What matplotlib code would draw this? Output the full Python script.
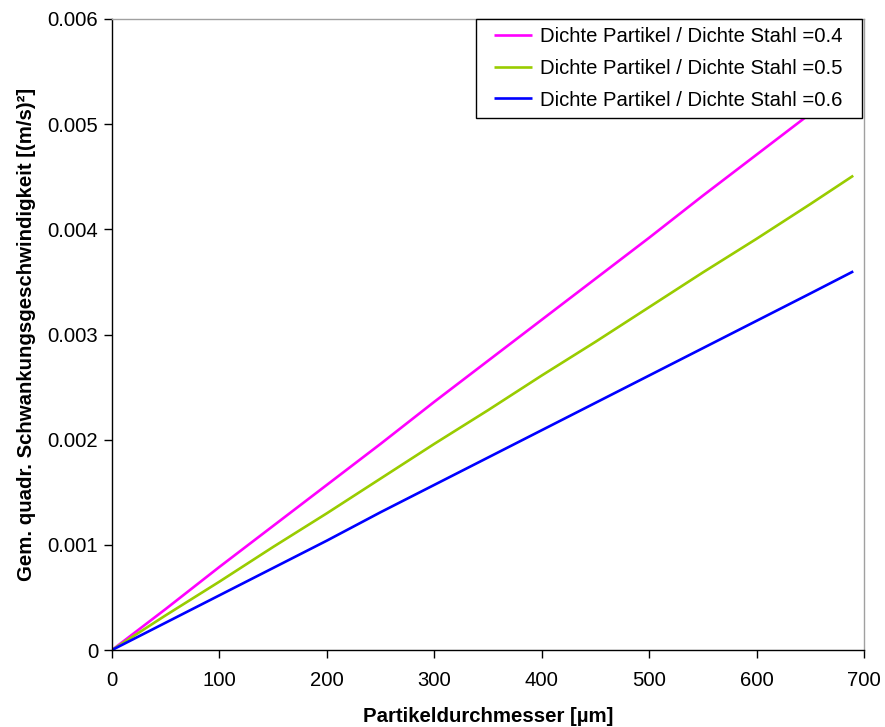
import matplotlib
matplotlib.use("Agg")
import matplotlib.pyplot as plt
from matplotlib.patches import Rectangle
from matplotlib.ticker import FixedLocator

plt.rcParams['font.family'] = ['Liberation Sans', 'DejaVu Sans']

# particle diameter in micrometres
diameter = [0, 50, 100, 150, 200, 250, 300, 350, 400, 450, 500, 550, 600, 650, 690]

# mean square fluctuation velocity for each density ratio
ratio_04 = [0, 0.00039, 0.00079, 0.00118, 0.00157, 0.00196, 0.00236, 0.00275,
            0.00314, 0.00353, 0.00392, 0.00432, 0.00471, 0.00510, 0.00541]
ratio_05 = [0, 0.00033, 0.00065, 0.00098, 0.00130, 0.00163, 0.00196, 0.00228,
            0.00261, 0.00293, 0.00326, 0.00359, 0.00391, 0.00424, 0.00451]
ratio_06 = [0, 0.00026, 0.00052, 0.00078, 0.00104, 0.00131, 0.00157, 0.00183,
            0.00209, 0.00235, 0.00261, 0.00287, 0.00313, 0.00339, 0.00360]

labels = ["Dichte Partikel / Dichte Stahl =0.4",
          "Dichte Partikel / Dichte Stahl =0.5",
          "Dichte Partikel / Dichte Stahl =0.6"]
colors = ["#FF00FF", "#99CC00", "#0000FF"]

x_ticks = [0, 100, 200, 300, 400, 500, 600, 700]
y_ticks = [0, 0.001, 0.002, 0.003, 0.004, 0.005, 0.006]
y_ticklabels = ["0", "0.001", "0.002", "0.003", "0.004", "0.005", "0.006"]

W, H = 885, 727
fig = plt.figure(figsize=(W / 100, H / 100), dpi=100)
ax = fig.add_axes([112 / W, 1 - 650 / H, (864 - 112) / W, (650 - 19) / H])

for series, lab, col in zip([ratio_04, ratio_05, ratio_06], labels, colors):
    ax.plot(diameter, series, color=col, lw=1.9, label=lab, solid_capstyle='butt')

ax.set_xlim(0, 700)
ax.set_ylim(0, 0.006)
ax.xaxis.set_major_locator(FixedLocator(x_ticks))
ax.set_yticks(y_ticks)
ax.set_yticklabels(y_ticklabels)
ax.tick_params(axis='both', direction='out', length=6, width=1, color='black',
               labelsize=14.6)
ax.tick_params(axis='y', pad=4)
ax.tick_params(axis='x', pad=9)

for side in ('left', 'bottom'):
    ax.spines[side].set_color('black')
    ax.spines[side].set_linewidth(1)
for side in ('top', 'right'):
    ax.spines[side].set_color('#A0A0A0')
    ax.spines[side].set_linewidth(1)

ax.set_xlabel("Partikeldurchmesser [µm]", fontsize=14.7, fontweight='bold', labelpad=12)
ax.set_ylabel("Gem. quadr. Schwankungsgeschwindigkeit [(m/s)²]", fontsize=14.7,
              fontweight='bold', labelpad=8)

# legend box drawn as its own frame
box = Rectangle((476 / W, 1 - 118 / H), 386 / W, 99 / H, transform=fig.transFigure,
                facecolor='white', edgecolor='black', lw=1, zorder=4, clip_on=False)
ax.add_patch(box)

leg = ax.legend(loc='upper left', bbox_to_anchor=(494 / W, 1 - 27 / H),
                bbox_transform=fig.transFigure, fontsize=14.6, frameon=False,
                borderaxespad=0, borderpad=0, handlelength=1.85, handletextpad=0.4,
                labelspacing=0.63)
leg.set_zorder(5)

fig.savefig("out.png", dpi=100)
